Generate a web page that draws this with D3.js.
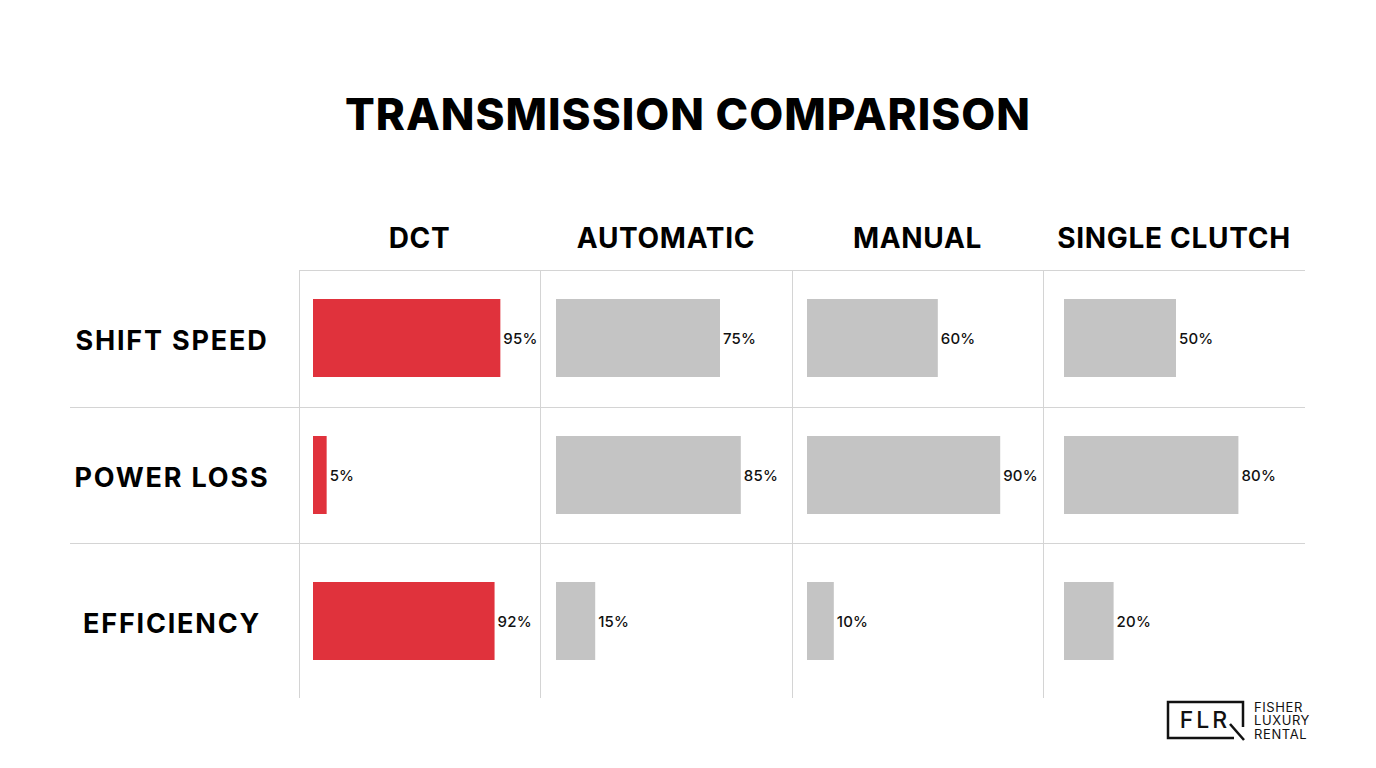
<!DOCTYPE html>
<html>
<head>
<meta charset="utf-8">
<script src="https://cdn.jsdelivr.net/npm/d3@7"></script>
<style>
  body { margin: 0; background: #fff; }
  svg text { font-family: Inter, "Open Sans", sans-serif; }
</style>
</head>
<body>
<div id="chart"></div>
<script>
// data
const transmissions = ['DCT', 'AUTOMATIC', 'MANUAL', 'SINGLE CLUTCH'];
const metrics = ['SHIFT SPEED', 'POWER LOSS', 'EFFICIENCY'];
const shiftSpeed = [95, 75, 60, 50];
const powerLoss = [5, 85, 90, 80];
const efficiency = [92, 15, 10, 20];
const highlighted = 'DCT';

const values = [shiftSpeed, powerLoss, efficiency];

const width = 1376, height = 768;

const svg = d3.select('#chart')
  .append('svg')
  .attr('width', width)
  .attr('height', height)
  .style('background', 'white');

// layout
const colEdges = [299, 540, 792, 1043, 1305];
const rowEdges = [270, 407, 543, 698];
const barStart = [313, 556, 807, 1064];
const barStub = [4, 8, 6, 8];
const barMax = [193, 208, 208, 208];

// row centres (last row is taller)
const yScale = d3.scaleOrdinal()
  .domain(metrics)
  .range([338, 475, 621]);

const barH = 78;

// title
svg.append('text')
  .attr('x', 688)
  .attr('y', 130)
  .attr('text-anchor', 'middle')
  .style('font-size', '44px')
  .style('font-weight', 800)
  .style('letter-spacing', '1px')
  .style('fill', '#000')
  .text('TRANSMISSION COMPARISON');

// grid
const grid = svg.append('g').attr('stroke', '#d4d4d4').attr('stroke-width', 1);
grid.append('line')
  .attr('x1', colEdges[0]).attr('x2', colEdges[4])
  .attr('y1', rowEdges[0] + 0.5).attr('y2', rowEdges[0] + 0.5);
rowEdges.slice(1, 3).forEach(y => {
  grid.append('line')
    .attr('x1', 70).attr('x2', colEdges[4])
    .attr('y1', y + 0.5).attr('y2', y + 0.5);
});
colEdges.slice(0, 4).forEach(x => {
  grid.append('line')
    .attr('x1', x + 0.5).attr('x2', x + 0.5)
    .attr('y1', rowEdges[0]).attr('y2', rowEdges[3]);
});

// column headers
transmissions.forEach((t, i) => {
  svg.append('text')
    .attr('x', (colEdges[i] + colEdges[i + 1]) / 2)
    .attr('y', 248)
    .attr('text-anchor', 'middle')
    .style('font-size', '28px')
    .style('font-weight', 700)
    .style('letter-spacing', '0.7px')
    .style('fill', '#000')
    .text(t);
});

// row labels
metrics.forEach(m => {
  svg.append('text')
    .attr('x', 172)
    .attr('y', yScale(m) + 12)
    .attr('text-anchor', 'middle')
    .style('font-size', '27px')
    .style('font-weight', 700)
    .style('letter-spacing', '1.8px')
    .style('fill', '#000')
    .text(m);
});

// bars
transmissions.forEach((t, i) => {
  const xScale = d3.scaleLinear()
    .domain([0, 100])
    .range([barStart[i] + barStub[i], barStart[i] + barStub[i] + barMax[i]]);

  const rows = metrics.map((m, j) => ({ metric: m, value: values[j][i] }));

  const g = svg.append('g');
  g.selectAll('rect')
    .data(rows)
    .enter()
    .append('rect')
      .attr('x', barStart[i])
      .attr('y', d => yScale(d.metric) - barH / 2)
      .attr('width', d => xScale(d.value) - barStart[i])
      .attr('height', barH)
      .attr('fill', t === highlighted ? '#e0323c' : '#c4c4c4');

  g.selectAll('text')
    .data(rows)
    .enter()
    .append('text')
      .attr('x', d => xScale(d.value) + 3)
      .attr('y', d => yScale(d.metric) + 6)
      .style('font-size', '15px')
      .style('font-weight', 500)
      .style('letter-spacing', '0.2px')
      .style('fill', '#111')
      .text(d => d.value + '%');
});

// logo
const logo = svg.append('g');
logo.append('path')
  .attr('d', 'M1234,738 L1168,738 L1168,702 L1243,702 L1243,727')
  .attr('fill', 'none')
  .attr('stroke', '#111')
  .attr('stroke-width', 2.5);
logo.append('text')
  .attr('x', 1205)
  .attr('y', 728)
  .attr('text-anchor', 'middle')
  .style('font-size', '23px')
  .style('font-weight', 500)
  .style('letter-spacing', '3px')
  .style('fill', '#111')
  .text('FLR');
logo.append('line')
  .attr('x1', 1230).attr('y1', 724).attr('x2', 1244).attr('y2', 740)
  .attr('stroke', '#111').attr('stroke-width', 2.5);
['FISHER', 'LUXURY', 'RENTAL'].forEach((w, k) => {
  logo.append('text')
    .attr('x', 1254)
    .attr('y', 712 + k * 13.3)
    .style('font-size', '13px')
    .style('font-weight', 400)
    .style('letter-spacing', '0.6px')
    .style('fill', '#111')
    .text(w);
});
</script>
</body>
</html>
